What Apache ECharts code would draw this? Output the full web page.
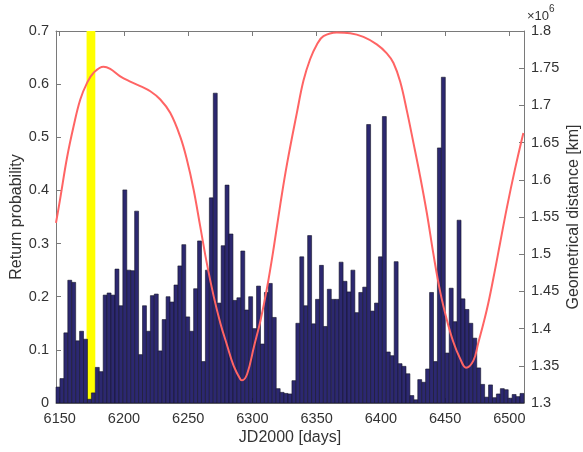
<!DOCTYPE html>
<html>
<head>
<meta charset="utf-8">
<script src="https://cdn.jsdelivr.net/npm/echarts@6/dist/echarts.min.js"></script>
<style>
html,body{margin:0;padding:0;background:#fff;}
#chart{width:583px;height:452px;}
</style>
</head>
<body>
<div id="chart"></div>
<script>
// ---- data ----
const xMin = 6147.1;
const xMax = 6511.4;
const binStart = 6147.1;
const binWidth = 3.061;
const returnProbability = [
  0.030, 0.046, 0.132, 0.231, 0.227, 0.117, 0.135, 0.120, 0.007, 0.019,
  0.067, 0.059, 0.203, 0.207, 0.203, 0.252, 0.183, 0.401, 0.250, 0.249,
  0.361, 0.091, 0.183, 0.135, 0.202, 0.205, 0.098, 0.157, 0.200, 0.190,
  0.222, 0.258, 0.298, 0.162, 0.135, 0.215, 0.305, 0.078, 0.250, 0.386,
  0.583, 0.188, 0.296, 0.410, 0.318, 0.193, 0.198, 0.286, 0.175, 0.200,
  0.140, 0.220, 0.111, 0.208, 0.225, 0.161, 0.027, 0.020, 0.018, 0.017,
  0.042, 0.150, 0.275, 0.183, 0.315, 0.149, 0.195, 0.259, 0.144, 0.214,
  0.195, 0.195, 0.265, 0.229, 0.209, 0.250, 0.170, 0.208, 0.218, 0.524,
  0.173, 0.188, 0.275, 0.539, 0.096, 0.089, 0.266, 0.074, 0.069, 0.055,
  0.014, 0.006, 0.044, 0.039, 0.064, 0.208, 0.078, 0.480, 0.613, 0.094,
  0.216, 0.153, 0.344, 0.196, 0.176, 0.150, 0.122, 0.066, 0.035, 0.011,
  0.034, 0.010, 0.017, 0.027, 0.025, 0.009, 0.016, 0.012, 0.018
];
const distDays = [
  6147.1, 6150.4, 6155.7, 6160.8, 6166.0, 6171.2, 6176.4, 6184.1, 6189.3, 6197.1,
  6204.9, 6212.7, 6220.5, 6228.3, 6236.0, 6243.8, 6249.0, 6254.2, 6259.4, 6264.6,
  6269.9, 6275.1, 6280.2, 6285.4, 6290.6, 6292.0, 6295.9, 6301.1, 6306.3, 6311.5,
  6316.7, 6321.8, 6327.0, 6334.6, 6339.7, 6344.9, 6350.2, 6355.3, 6365.7, 6376.1,
  6386.4, 6396.8, 6404.6, 6409.8, 6415.0, 6420.2, 6425.3, 6430.5, 6435.8, 6440.9,
  6446.1, 6451.3, 6456.4, 6461.6, 6466.3, 6472.0, 6475.7, 6482.4, 6487.6, 6492.8,
  6498.0, 6504.2, 6510.9
];
const distValues = [ // x10^6 km
  1.542, 1.575, 1.630, 1.672, 1.708, 1.730, 1.744, 1.752, 1.749, 1.739,
  1.732, 1.726, 1.719, 1.708, 1.690, 1.658, 1.627, 1.587, 1.537, 1.487,
  1.443, 1.407, 1.378, 1.350, 1.332, 1.3305, 1.339, 1.375, 1.411, 1.456,
  1.510, 1.568, 1.622, 1.690, 1.733, 1.762, 1.782, 1.793, 1.798, 1.797,
  1.792, 1.782, 1.770, 1.757, 1.732, 1.693, 1.650, 1.605, 1.555, 1.500,
  1.450, 1.412, 1.382, 1.360, 1.3475, 1.357, 1.380, 1.425, 1.468, 1.515,
  1.562, 1.613, 1.663
];
const highlightBand = [6170.9, 6177.7];
const xTickInterval = 50;
const yLeftTicks = {min: 0, max: 0.7, interval: 0.1};
const yRightTicks = {min: 1.3, max: 1.8, interval: 0.05};

// ---- build ----
const barData = returnProbability.map((v, i) => [binStart + i * binWidth, binStart + (i + 1) * binWidth, v]);
const lineData = distDays.map((d, i) => [d, distValues[i]]);

const FONT = 'Liberation Sans, Arial, sans-serif';
const AX = '#7a7a7a';
const TXT = '#333333';

const chart = echarts.init(document.getElementById('chart'), null, {renderer: 'canvas'});
const xCommon = {
  type: 'value', min: xMin, max: xMax, splitNumber: 8,
  minInterval: xTickInterval, maxInterval: xTickInterval,
  axisLine: {show: true, onZero: false, lineStyle: {color: AX, width: 1}},
  axisTick: {show: true, inside: true, length: 5, lineStyle: {color: AX}},
  splitLine: {show: false}
};
chart.setOption({
  animation: false,
  backgroundColor: '#ffffff',
  grid: {left: 56, right: 59, top: 31, bottom: 49, containLabel: false},
  xAxis: [
    Object.assign({}, xCommon, {
      position: 'bottom',
      axisLabel: {show: true, showMinLabel: false, showMaxLabel: false, color: TXT, fontSize: 14.5, fontFamily: FONT, margin: 8,
        formatter: v => String(Math.round(v))}
    }),
    Object.assign({}, xCommon, {position: 'top', axisLabel: {show: false}})
  ],
  yAxis: [
    {
      type: 'value', position: 'left', min: yLeftTicks.min, max: yLeftTicks.max, interval: yLeftTicks.interval,
      axisLine: {show: true, lineStyle: {color: AX}},
      axisTick: {show: true, inside: true, length: 5, lineStyle: {color: AX}},
      axisLabel: {color: TXT, fontSize: 14.5, fontFamily: FONT, margin: 7},
      splitLine: {show: false}
    },
    {
      type: 'value', position: 'right', min: yRightTicks.min, max: yRightTicks.max, interval: yRightTicks.interval,
      axisLine: {show: true, lineStyle: {color: AX}},
      axisTick: {show: true, inside: true, length: 5, lineStyle: {color: AX}},
      axisLabel: {color: TXT, fontSize: 14.5, fontFamily: FONT, margin: 7},
      splitLine: {show: false}
    }
  ],
  series: [
    {
      type: 'custom', name: 'band', z: 1, xAxisIndex: 0, yAxisIndex: 0,
      data: [[highlightBand[0], highlightBand[1]]],
      encode: {x: [0, 1]},
      renderItem: function (params, api) {
        const a = api.coord([api.value(0), yLeftTicks.max]);
        const b = api.coord([api.value(1), yLeftTicks.min]);
        return {type: 'rect', shape: {x: a[0], y: a[1], width: b[0] - a[0], height: b[1] - a[1]},
          style: {fill: '#ffff00'}};
      },
      silent: true
    },
    {
      type: 'custom', name: 'Return probability', z: 2, xAxisIndex: 0, yAxisIndex: 0,
      data: barData,
      encode: {x: [0, 1], y: 2},
      renderItem: function (params, api) {
        const p0 = api.coord([api.value(0), 0]);
        const p1 = api.coord([api.value(1), api.value(2)]);
        return {type: 'rect', shape: {x: p0[0], y: p1[1], width: p1[0] - p0[0], height: p0[1] - p1[1]},
          style: {fill: '#2c2870', stroke: '#141428', lineWidth: 0.6}};
      }
    },
    {
      type: 'line', name: 'Geometrical distance', z: 3, xAxisIndex: 0, yAxisIndex: 1,
      data: lineData, smooth: 0.4, showSymbol: false,
      lineStyle: {color: '#ff6464', width: 2}
    }
  ],
  graphic: [
    {type: 'text', x: 17, y: 217, rotation: Math.PI / 2,
      style: {text: 'Return probability', font: '16px ' + FONT, fill: TXT, textAlign: 'center', textVerticalAlign: 'middle'}},
    {type: 'text', x: 574, y: 217, rotation: Math.PI / 2,
      style: {text: 'Geometrical distance [km]', font: '16px ' + FONT, fill: TXT, textAlign: 'center', textVerticalAlign: 'middle'}},
    {type: 'text', x: 290, y: 438,
      style: {text: 'JD2000 [days]', font: '16px ' + FONT, fill: TXT, textAlign: 'center', textVerticalAlign: 'middle'}},
    {type: 'text', x: 527, y: 16,
      style: {text: '×10', font: '13px ' + FONT, fill: TXT, textAlign: 'left', textVerticalAlign: 'middle'}},
    {type: 'text', x: 549, y: 9,
      style: {text: '6', font: '10px ' + FONT, fill: TXT, textAlign: 'left', textVerticalAlign: 'middle'}}
  ]
});
</script>
</body>
</html>
